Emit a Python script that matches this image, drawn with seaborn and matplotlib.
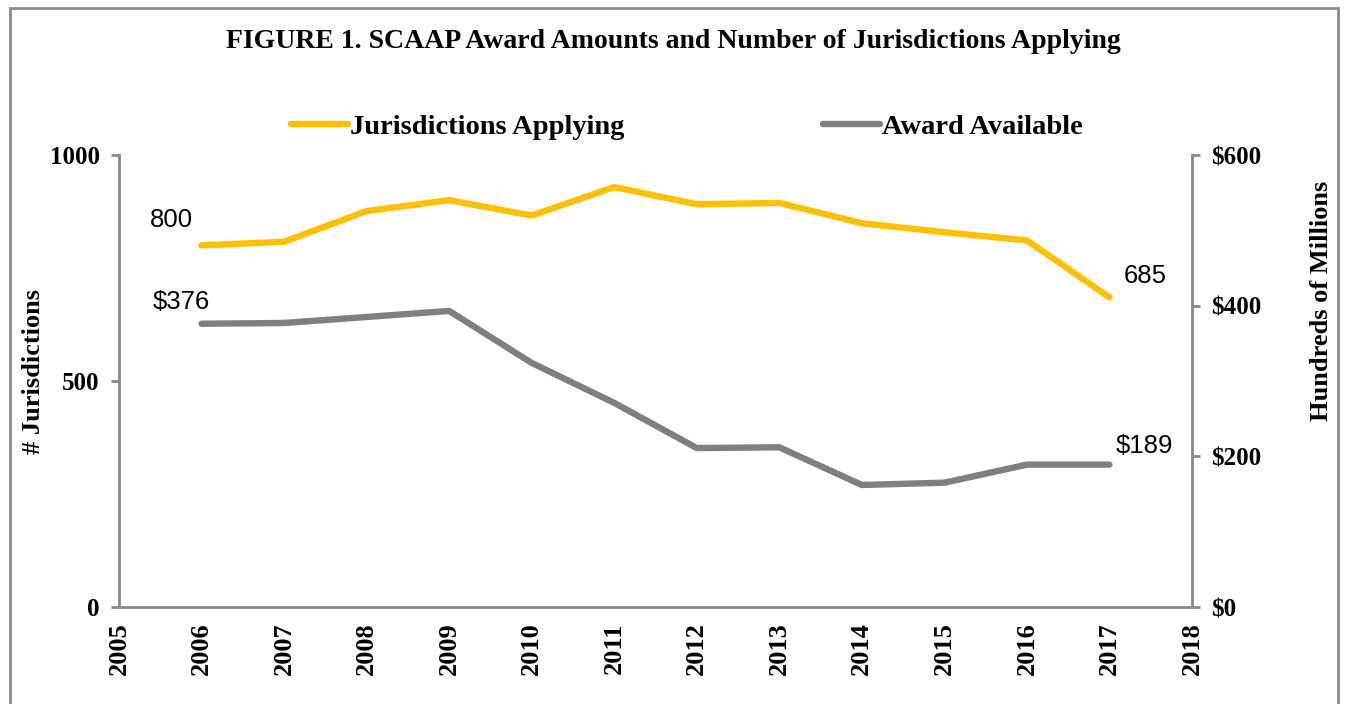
import matplotlib
matplotlib.use("Agg")
import matplotlib.pyplot as plt
import seaborn as sns
import pandas as pd
from matplotlib.lines import Line2D
from matplotlib.patches import Rectangle

years = [2006, 2007, 2008, 2009, 2010, 2011, 2012, 2013, 2014, 2015, 2016, 2017]
jurisdictions = [800, 808, 876, 900, 866, 929, 891, 894, 849, 829, 811, 685]
award = [376, 377, 385, 393, 324, 271, 211, 212, 162, 165, 189, 189]
x_ticks = list(range(2005, 2019))
left_ticks = [0, 500, 1000]
right_ticks = [0, 200, 400, 600]
right_tick_labels = ["$0", "$200", "$400", "$600"]

df = pd.DataFrame({"Year": years, "Jurisdictions": jurisdictions, "Award": award})

sns.set_theme(style="white")
plt.rcParams["font.family"] = ["Liberation Serif", "DejaVu Serif"]
plt.rcParams["text.color"] = "black"
plt.rcParams["axes.labelcolor"] = "black"
plt.rcParams["xtick.color"] = "black"
plt.rcParams["ytick.color"] = "black"

YELLOW = "#FFC000"
GRAY = "#7F7F7F"
SPINE = "#898989"

fig = plt.figure(figsize=(13.48, 7.04), dpi=100)
ax = fig.add_axes([119 / 1348, 1 - 607 / 704, (1192 - 119) / 1348, (607 - 155) / 704])
ax2 = ax.twinx()

sns.lineplot(data=df, x="Year", y="Jurisdictions", ax=ax, color=YELLOW, linewidth=4.6,
             solid_capstyle="round", solid_joinstyle="miter", legend=False)
sns.lineplot(data=df, x="Year", y="Award", ax=ax2, color=GRAY, linewidth=4.6,
             solid_capstyle="round", solid_joinstyle="miter", legend=False)

ax.set_xlim(2005, 2018)
ax.set_ylim(0, 1000)
ax2.set_ylim(0, 600)
ax.set_xticks(x_ticks)
ax.set_xticklabels([str(t) for t in x_ticks], rotation=90, fontsize=19, fontweight="bold")
ax.set_yticks(left_ticks)
ax.set_yticklabels([str(t) for t in left_ticks], fontsize=18, fontweight="bold")
ax2.set_yticks(right_ticks)
ax2.set_yticklabels(right_tick_labels, fontsize=18, fontweight="bold")

ax.set_xlabel("")
ax.set_ylabel("# Jurisdictions", fontsize=19, fontweight="bold")
ax.yaxis.set_label_coords(-0.069, 0.52)
ax2.set_ylabel("Hundreds of Millions", fontsize=19, fontweight="bold")
ax2.yaxis.set_label_coords(1.110, 0.677)

for a in (ax, ax2):
    a.spines["top"].set_visible(False)
    for s in ("left", "right", "bottom"):
        a.spines[s].set_color(SPINE)
        a.spines[s].set_linewidth(2)
    a.tick_params(axis="both", which="both", direction="out", length=6, width=2,
                  color=SPINE, labelcolor="black", pad=8)
    a.grid(False)
ax.spines["right"].set_visible(False)
ax2.spines["left"].set_visible(False)
ax2.spines["bottom"].set_visible(False)
ax.tick_params(axis="x", pad=5)

ann_font = dict(family="Liberation Sans", fontsize=18.5, color="black")
ax.text(years[0] - 0.37, jurisdictions[0] + 56, str(jurisdictions[0]), ha="center", va="center", **ann_font)
ax2.text(years[0] - 0.25, award[0] + 29, f"${award[0]}", ha="center", va="center", **ann_font)
ax.text(years[-1] + 0.43, jurisdictions[-1] + 48, str(jurisdictions[-1]), ha="center", va="center", **ann_font)
ax2.text(years[-1] + 0.42, award[-1] + 25, f"${award[-1]}", ha="center", va="center", **ann_font)

fig.text(673 / 1348, 1 - 41 / 704, "FIGURE 1. SCAAP Award Amounts and Number of Jurisdictions Applying",
         ha="center", va="center", fontsize=20, fontweight="bold")

handles = [Line2D([0], [0], color=YELLOW, linewidth=4.6, solid_capstyle="round"),
           Line2D([0], [0], color=GRAY, linewidth=4.6, solid_capstyle="round")]
fig.legend(handles, ["Jurisdictions Applying", "Award Available"], ncol=2,
           loc="center", bbox_to_anchor=(687 / 1348, 1 - 127 / 704), frameon=False,
           prop=dict(family="Liberation Serif", size=20.5, weight="bold"),
           handlelength=2.0, handletextpad=0.05, columnspacing=7.0)

fig.patches.append(Rectangle((10 / 1348, -0.05), (1338 - 10) / 1348, 1.05 - 8 / 704,
                             transform=fig.transFigure, fill=False, edgecolor="#8c8c8c",
                             linewidth=2, zorder=0))

fig.savefig("out.png", dpi=100)
